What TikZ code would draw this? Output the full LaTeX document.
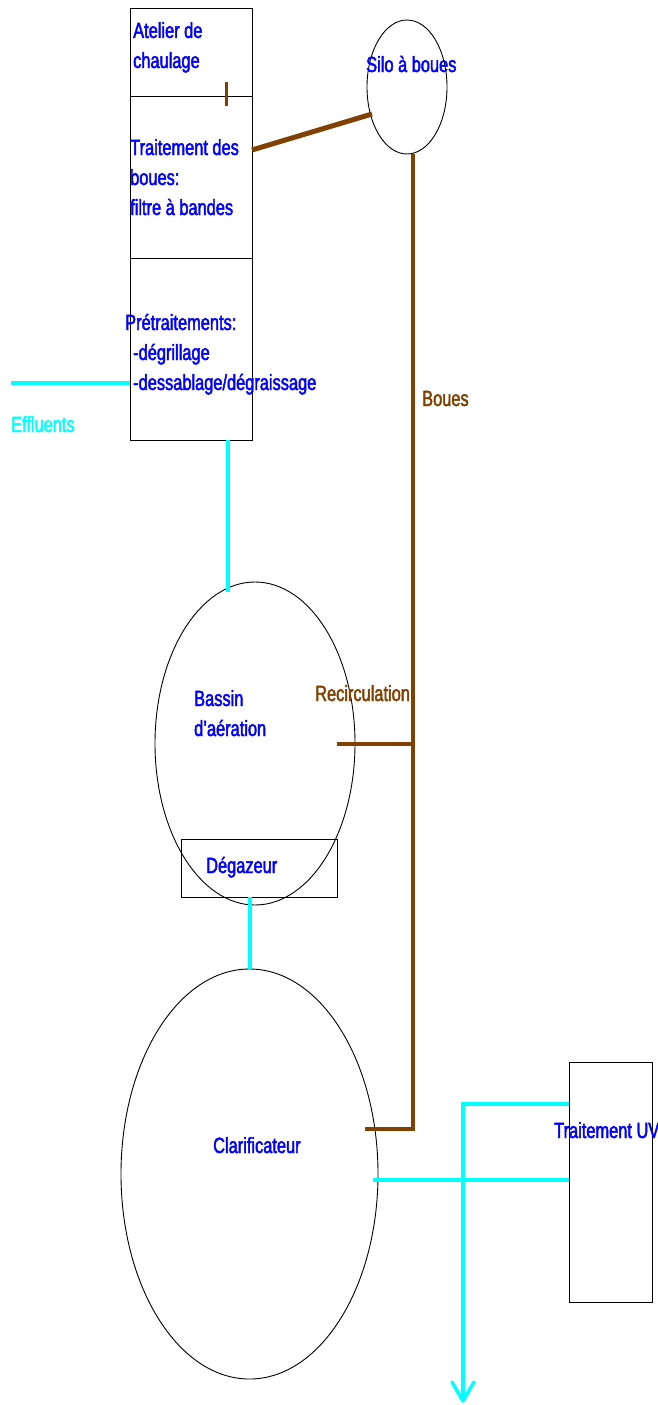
\documentclass[tikz,border=0pt]{standalone}
\usepackage{fontspec}
\setmainfont{Liberation Sans}[FakeStretch=0.745,FakeBold=2]
\usetikzlibrary{calc,shapes.geometric}
\definecolor{txtblue}{RGB}{0,0,255}
\definecolor{pipecyan}{RGB}{0,255,255}
\definecolor{sludge}{RGB}{128,64,0}
\tikzset{
  unitbox/.style={draw=black,line width=0.9pt,inner sep=0pt,anchor=north west},
  tank/.style={draw=black,line width=0.9pt,ellipse,inner sep=0pt},
  lbl/.style={anchor=base west,inner sep=0pt,text=txtblue,font=\fontsize{22}{26}\selectfont},
  brownlbl/.style={lbl,text=sludge},
  cyanlbl/.style={lbl,text=pipecyan},
  water/.style={draw=pipecyan,line width=4pt},
  mud/.style={draw=sludge,line width=3.5pt},
}
\begin{document}
\begin{tikzpicture}[x=1pt,y=-1pt]
\useasboundingbox[fill=white] (0,0) rectangle (657,1405);
% units
\node[unitbox,minimum width=122pt,minimum height=88pt] (atelier) at (130,8) {};
\node[unitbox,minimum width=122pt,minimum height=162pt] (traitboues) at (130,96) {};
\node[unitbox,minimum width=122pt,minimum height=182pt] (pretrait) at (130,258) {};
\node[tank,minimum width=80pt,minimum height=134pt] (silo) at (407,87) {};
\node[tank,minimum width=200pt,minimum height=323pt] (bassin) at (255,743.5) {};
\node[draw=black,line width=0.9pt,inner sep=0pt,minimum width=156pt,minimum height=58pt] (degazeur) at (259,868) {};
\node[tank,minimum width=257pt,minimum height=410pt] (clarif) at (249.5,1174) {};
\node[draw=black,line width=0.9pt,inner sep=0pt,minimum width=83pt,minimum height=240pt] (uv) at (610.5,1182) {};
% labels
\node[lbl] (t1) at (133,38) {Atelier de};
\node[lbl] (t2) at (133,68) {chaulage};
\node[lbl] (t3) at (130,155) {Traitement des};
\node[lbl] (t4) at (130,185) {boues:};
\node[lbl] (t5) at (130,215) {filtre à bandes};
\node[lbl] (t6) at (125,330) {Prétraitements:};
\node[lbl] (t7) at (133,360) {-dégrillage};
\node[lbl] (t8) at (133,390) {-dessablage/dégraissage};
\node[cyanlbl] (t9) at (11,432) {Effluents};
\node[lbl] (t10) at (366,72) {Silo à boues};
\node[brownlbl] (t11) at (422,406) {Boues};
\node[lbl] (t12) at (194,706) {Bassin};
\node[lbl] (t13) at (194,736) {d'aération};
\node[brownlbl] (t14) at (315,701) {Recirculation};
\node[lbl] (t15) at (206,873) {Dégazeur};
\node[lbl] (t16) at (213,1153) {Clarificateur};
\node[lbl] (t17) at (554,1138) {Traitement UV};
% coordinates
\coordinate (effin) at (11,383);
\coordinate (pbot) at (228,440);
\coordinate (bassintop) at (228,592);
\coordinate (tick1) at (226,82);
\coordinate (tick2) at (226,106);
\coordinate (tbR) at (252,150);
\coordinate (siloL) at (372,114);
\coordinate (siloB) at (413,154);
\coordinate (recirc) at (413,744);
\coordinate (recircin) at (337,744);
\coordinate (clarifj) at (413,1129);
\coordinate (clarifin) at (365,1129);
\coordinate (clarifout) at (373,1180);
\coordinate (uvtop) at (569,1104);
\coordinate (bend) at (463,1104);
\coordinate (outlet) at (463,1401);
% water
\draw[water] (effin) -- (effin -| pretrait.west);
\draw[water] (pbot) -- (bassintop);
\draw[water] (degazeur.south -| clarif.north) -- (clarif.north);
\draw[water] (clarifout) -- (clarifout -| uv.west);
\draw[water] (uvtop) -- (bend) -- (outlet);
\draw[water,line width=3.5pt,line cap=round,line join=round] ($(outlet)+(-11,-19)$) -- (outlet) -- ($(outlet)+(11,-19)$);
% sludge
\draw[mud,line width=3pt] (tick1) -- (tick2);
\draw[mud,line width=5pt] (tbR) -- (siloL);
\draw[mud] (siloB) -- (clarifj) -- (clarifin);
\draw[mud] (recirc) -- (recircin);
\end{tikzpicture}
\end{document}
